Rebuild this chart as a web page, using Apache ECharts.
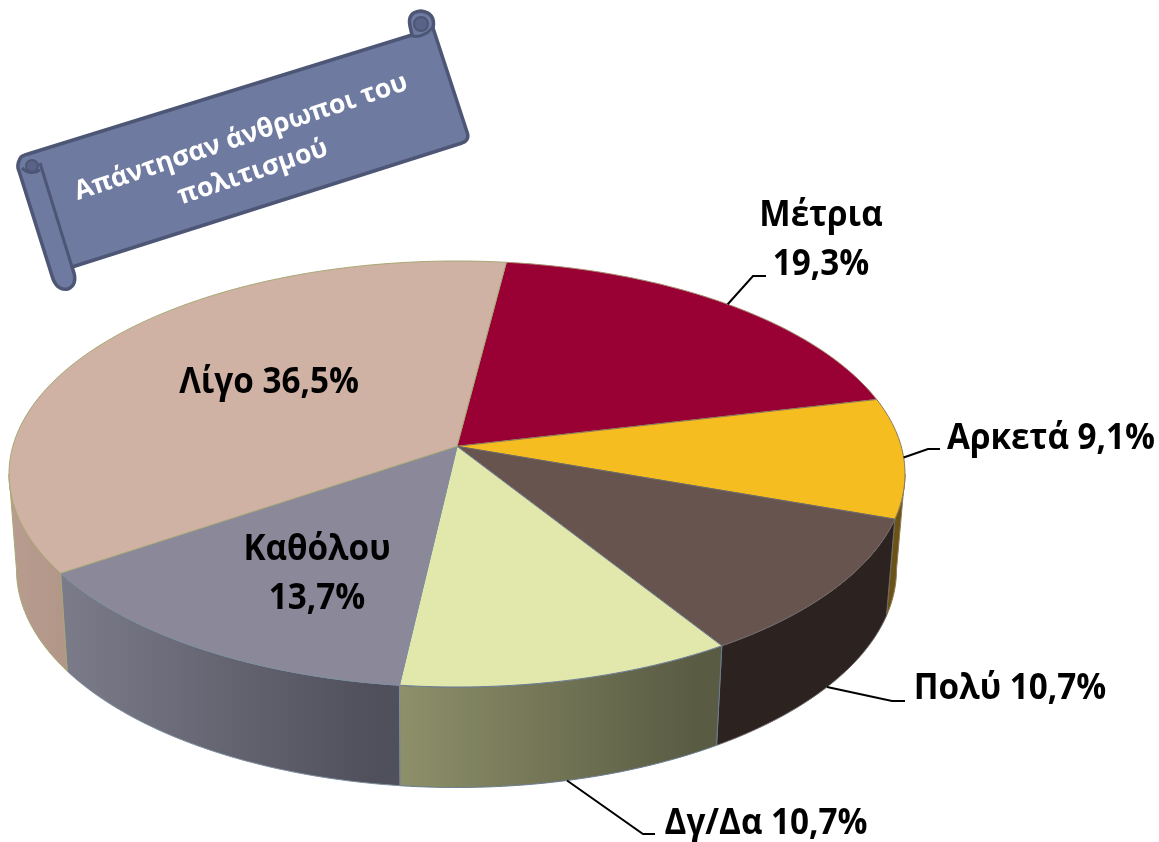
<!DOCTYPE html>
<html><head><meta charset="utf-8">
<style>html,body{margin:0;padding:0;background:#fff}#c{width:1159px;height:842px}</style>
<script src="https://cdn.jsdelivr.net/npm/echarts@6/dist/echarts.min.js"></script>
</head><body><div id="c"></div>
<script>
// Data
const categories = ['Μέτρια','Αρκετά','Πολύ','Δγ/Δα','Καθόλου','Λίγο'];
const values = [19.3, 9.1, 10.7, 10.7, 13.7, 36.5];
const bannerText = 'Απάντησαν άνθρωποι του\nπολιτισμού';

// Style
const topColors = ['#990033','#f5bd1f','#68544e','#e2e7ac','#8a8899','#cfb2a4'];
const wallFrom  = ['#7a0029','#6b5215','#2c2220','#8d9069','#7c7b8a','#b89d90'];
const wallTo    = ['#7a0029','#6b5215','#2c2220','#595b43','#50505c','#b29688'];
const strokes   = ['#a88a70','#8c7a5a','#6f6a68','#6d7d92','#7f8fa0','#a8a874'];
const labelSep  = ['\n',' ',' ',' ','\n',' '];

// Layout: top ellipse, bottom ellipse, perspective shift, start angle
const TOP = {cx:457, cy:474, rx:448, ry:213};
const BOT = {cx:456.5, cy:569.5, rx:440, ry:218};
const E = 0.13, START = 7.2;
const FONT = '"Open Sans"';
const labelPos = [[821,241],[1051,439],[1010,689],[766,824],[317,575],[269,383]];
const leaders = [
  {rim:'top', pts:[[753,276],[766,276]]},
  {rim:'top', pts:[[928,449],[940,449]]},
  {rim:'bot', pts:[[892,701],[905,701]]},
  {rim:'bot', pts:[[643,834],[655,834]]},
  null, null
];
// Angular range where the side wall is on the silhouette's front
const WALL_FROM = 97.5, WALL_TO = 262.5;

function rim(e, deg){
  const p = deg*Math.PI/180, x = Math.sin(p), y = Math.cos(p), d = 1 + E*y;
  const X = x*Math.sqrt(1-E*E)/d, Y = (y+E)/d;
  return [e.cx + e.rx*X, e.cy - e.ry*Y];
}
function arc(e, a, b){
  const pts = [], n = Math.max(8, Math.ceil(Math.abs(b-a)));
  for (let i=0;i<=n;i++) pts.push(rim(e, a+(b-a)*i/n));
  return pts;
}
const apex = [TOP.cx, TOP.cy - TOP.ry*E];
const total = values.reduce((s,v)=>s+v,0);

function renderItem(params, api){
  const i = params.dataIndex;
  let before = 0;
  for (let k=0;k<i;k++) before += values[k];
  const a = START + before/total*360, b = a + api.value(0)/total*360, mid = (a+b)/2;
  const children = [];
  const wa = Math.max(a, WALL_FROM), wb = Math.min(b, WALL_TO);
  if (wb > wa){
    children.push({type:'polygon', z2:1, shape:{points:arc(TOP,wa,wb).concat(arc(BOT,wa,wb).reverse())},
      style:{fill:new echarts.graphic.LinearGradient(0,0,1,0,[{offset:0,color:wallFrom[i]},{offset:0.92,color:wallTo[i]},{offset:1,color:wallTo[i]}]),
             stroke:strokes[i], lineWidth:1}});
  }
  children.push({type:'polygon', z2:2, shape:{points:[apex].concat(arc(TOP,a,b))},
    style:{fill:topColors[i], stroke:strokes[i], lineWidth:1}});
  const L = leaders[i];
  if (L){
    children.push({type:'polyline', z2:3, shape:{points:[rim(L.rim==='top'?TOP:BOT, mid)].concat(L.pts)},
      style:{fill:null, stroke:'#000', lineWidth:2}});
  }
  children.push({type:'text', z2:4, x:labelPos[i][0], y:labelPos[i][1], scaleX:0.95, style:{
    text: categories[i] + labelSep[i] + api.value(0).toFixed(1).replace('.',',') + '%',
    font:'bold 35px '+FONT, lineHeight:49, fill:'#000', align:'center', verticalAlign:'middle'}});
  return {type:'group', children};
}

// Banner outline helper: turns a list of L/Q segments into points
function trace(segs){
  const pts = [segs[0]];
  for (let s=1;s<segs.length;s++){
    const g = segs[s], p0 = pts[pts.length-1];
    if (g.length===2) pts.push(g);
    else for (let t=1;t<=8;t++){
      const u=t/8, v=1-u;
      pts.push([v*v*p0[0]+2*u*v*g[0]+u*u*g[2], v*v*p0[1]+2*u*v*g[1]+u*u*g[3]]);
    }
  }
  return pts;
}
const bannerBody = trace([[21,157],[16,165,19,171],[53,279],[58,291,68,289],[77,285,74,273],[72,267],[462,143],[470,140,467,132],[433,28],[436,13,421,11],[407,12,410,26],[412,35],[28,154],[24,155,21,157]]);
const bannerLines = [
  trace([[40,163],[72,267]]),
  trace([[22,168],[30,176,40,170]]),
  trace([[412,36],[424,38,433,27]])
];

const chart = echarts.init(document.getElementById('c'), null, {renderer:'canvas'});
const bStroke = '#4d5675', bFill = '#6f7aa0', bCurl = '#596388';
chart.setOption({
  animation:false,
  backgroundColor:'#fff',
  series:[{type:'custom', coordinateSystem:'none', silent:true, renderItem,
           data:values.map(v=>[v])}],
  graphic:[{type:'group', silent:true, children:[
    {type:'polygon', z:5, shape:{points:bannerBody}, style:{fill:bFill, stroke:bStroke, lineWidth:3.5, lineJoin:'round'}},
    {type:'circle', z:5, shape:{cx:32,cy:166,r:6}, style:{fill:bCurl, stroke:bStroke, lineWidth:2}},
    {type:'circle', z:5, shape:{cx:421,cy:24,r:7}, style:{fill:bCurl, stroke:bStroke, lineWidth:2}}
  ].concat(bannerLines.map(p=>({type:'polyline', z:5, shape:{points:p}, style:{fill:null, stroke:bStroke, lineWidth:3, lineJoin:'round'}}))).concat([
    {type:'text', z:6, x:247, y:155, rotation:18.5*Math.PI/180, style:{
      text:bannerText, font:'bold 26.5px '+FONT, lineHeight:37, fill:'#fff', align:'center', verticalAlign:'middle'}}
  ])}]
});
</script></body></html>
